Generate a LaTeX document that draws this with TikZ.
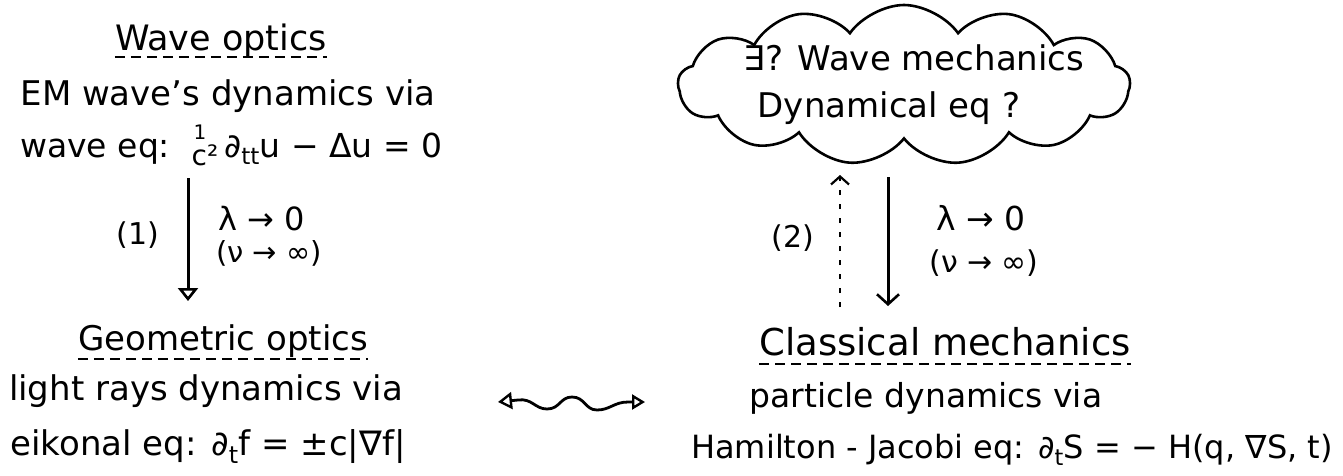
\documentclass[tikz,border=0pt]{standalone}
\usepackage{fontspec}
\setmainfont{DejaVu Sans}
\usetikzlibrary{arrows.meta,shapes.symbols}
\begin{document}
\begin{tikzpicture}[x=1pt,y=-1pt,
  txt/.style={inner sep=0pt, anchor=base, font=\fontsize{34}{40}\selectfont},
  ttl/.style={inner sep=0pt, anchor=base, font=\fontsize{35}{40}\selectfont},
  lim/.style={inner sep=0pt, anchor=base, font=\fontsize{32}{34}\selectfont},
  lbl/.style={inner sep=0pt, anchor=center, font=\fontsize{30}{34}\selectfont},
  uline/.style={line width=1.5pt, dash pattern=on 10pt off 6pt},
  barb/.style={line width=3pt, -{Straight Barb[length=10pt, width=22pt, line width=2.6pt]}},
  dashbarb/.style={line width=2pt, dash pattern=on 5pt off 9pt, -{Straight Barb[length=8pt, width=18pt, line width=2.2pt]}},
  opentip/.style={line width=3pt, -{Triangle[open, length=13pt, width=20pt, line width=2.6pt]}},
  wave/.style={line width=2.8pt, {Triangle[open, length=14pt, width=17pt, line width=2.4pt]}-{Triangle[open, length=13pt, width=15pt, line width=2.4pt]}}
]
\useasboundingbox (0,0) rectangle (1343,475);

% ---------- left column ----------
\node[ttl] (wo) at (221,50) {Wave optics};
\draw[uline] ([yshift=-7pt]wo.base west) -- ([yshift=-7pt]wo.base east);
\node[txt] (wo1) at (228,105) {EM wave's dynamics via};
\node[txt, anchor=base west, font=\fontsize{33}{40}\selectfont] (wo2) at (20,157) {wave eq:};
\node[txt, font=\fontsize{20}{24}\selectfont] (fr1) at (200,139) {1};
\node[txt, font=\fontsize{28}{30}\selectfont] (fr2) at (205,165) {c²};
\node[txt, anchor=base west, font=\fontsize{33}{40}\selectfont] (wo3) at (224,157) {∂\textsubscript{tt}u − Δu = 0};

\coordinate (a1s) at (188,178);
\coordinate (a1e) at (188,301);
\draw[opentip] (a1s) -- (a1e);
\node[lbl] (n1) at (138,235) {(1)};
\node[lim] (l1a) at (262,230) {λ → 0};
\node[lim, font=\fontsize{29}{30}\selectfont] (l1b) at (269,262) {(ν → ∞)};

\node[ttl, font=\fontsize{34}{40}\selectfont] (go) at (223,350) {Geometric optics};
\draw[uline] ([yshift=-9pt]go.base west) -- ([yshift=-9pt]go.base east);
\node[txt] (go1) at (206,400) {light rays dynamics via};
\node[txt] (go2) at (208,455) {eikonal eq: ∂\textsubscript{t}f = ±c|∇f|};

% ---------- wavy double arrow ----------
\coordinate (wl) at (498,402);
\coordinate (wr) at (645,402);
\draw[wave] (wl) -- (518,400) .. controls (532,398) and (535,409) .. (547,409)
  .. controls (560,409) and (560,397) .. (572,397)
  .. controls (585,397) and (585,410) .. (597,410)
  .. controls (610,410) and (614,402) .. (628,402) -- (wr);

% ---------- right column ----------
\node[draw, cloud, cloud puffs=13, cloud puff arc=110, cloud ignores aspect,
      minimum width=452pt, minimum height=160pt, line width=2.6pt, inner sep=0pt] (cloud) at (904,85) {};
\node[txt] (c1) at (914,70) {∃? Wave mechanics};
\node[txt] (c2) at (889,117) {Dynamical eq ?};

\coordinate (d2s) at (840,307);
\coordinate (d2e) at (840,175);
\draw[dashbarb] (d2s) -- (d2e);
\coordinate (s2s) at (888,177);
\coordinate (s2e) at (888,306);
\draw[barb] (s2s) -- (s2e);
\node[lbl] (n2) at (793,238) {(2)};
\node[lim, font=\fontsize{33}{34}\selectfont] (l2a) at (981,230) {λ → 0};
\node[lim, font=\fontsize{30}{30}\selectfont] (l2b) at (984,272) {(ν → ∞)};

\node[ttl, font=\fontsize{37}{40}\selectfont] (cm) at (945,355) {Classical mechanics};
\draw[uline] ([yshift=-9pt]cm.base west) -- ([yshift=-9pt]cm.base east);
\node[txt, font=\fontsize{33}{40}\selectfont] (cm1) at (926,407) {particle dynamics via};
\node[txt, font=\fontsize{32}{40}\selectfont] (cm2) at (1012,458) {Hamilton - Jacobi eq: ∂\textsubscript{t}S = − H(q, ∇S, t)};
\end{tikzpicture}
\end{document}
